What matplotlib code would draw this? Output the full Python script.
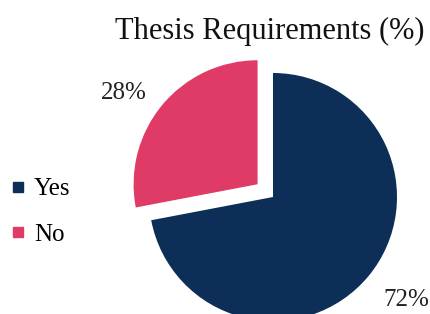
import matplotlib.pyplot as plt
from matplotlib.lines import Line2D

# data
categories = ['Yes', 'No']
shares = [72, 28]
pct_labels = ['72%', '28%']
colors = ['#0d2e56', '#df3b66']

plt.rcParams['font.family'] = ['Liberation Serif', 'DejaVu Serif']

fig = plt.figure(figsize=(4.31, 3.14), dpi=100)
ax = fig.add_axes([0, 0, 1, 1])

wedges, texts = ax.pie(shares, labels=pct_labels, colors=colors, startangle=90,
                       counterclock=False, explode=[0, 20], radius=124,
                       center=(273, 117), labeldistance=1.16,
                       textprops={'fontsize': 18, 'color': '#222222'},
                       wedgeprops={'linewidth': 0}, frame=True)
texts[0].set_ha('left')
texts[0].set_va('top')
texts[1].set_ha('right')
ax.set_xlim(0, 431)
ax.set_ylim(0, 314)
ax.set_aspect('equal', adjustable='datalim')
ax.axis('off')

fig.text(0.627, 0.90, 'Thesis Requirements (%)', ha='center', va='center',
         fontsize=22, color='#111111')

handles = [Line2D([], [], marker='s', linestyle='', color=c, markersize=6.5)
           for c in colors]
ax.legend(handles, categories, loc='center left', bbox_to_anchor=(0.0, 0.325),
          frameon=False, fontsize=18, handlelength=0.6, handletextpad=0.35,
          labelspacing=0.93, borderaxespad=0)

fig.savefig('out.png', dpi=100)
